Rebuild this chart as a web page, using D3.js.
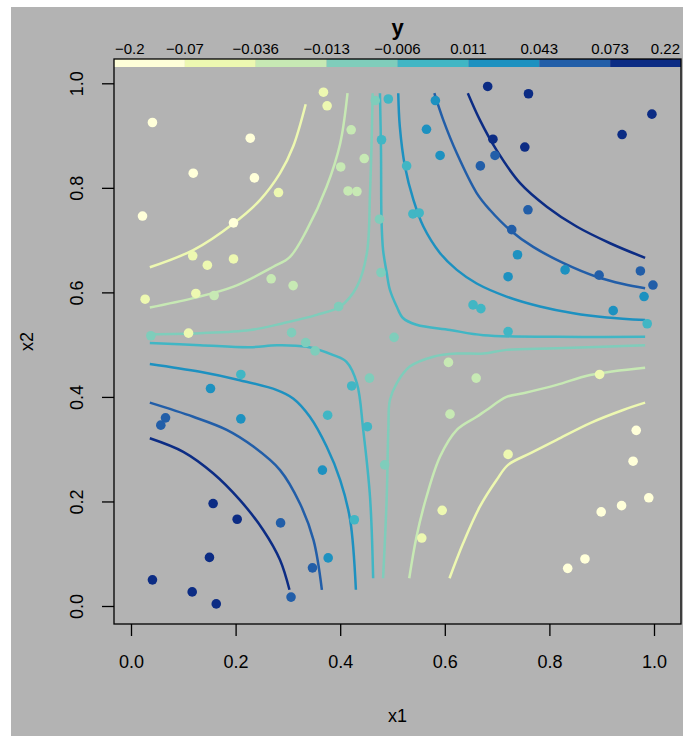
<!DOCTYPE html>
<html>
<head>
<meta charset="utf-8">
<title>contour</title>
<script src="https://d3js.org/d3.v7.min.js"></script>
<style>
  body { margin: 0; background: #fff; }
  text { font-family: "Liberation Sans", Arial, Helvetica, sans-serif; fill: #000; }
</style>
</head>
<body>
<script>
// class breaks of y and the colour of each class (YlGnBu, 8 classes)
const breaks = [-0.2, -0.07, -0.036, -0.013, -0.006, 0.011, 0.043, 0.073, 0.22];
const breakLabels = ['\u22120.2', '\u22120.07', '\u22120.036', '\u22120.013', '\u22120.006', '0.011', '0.043', '0.073', '0.22'];
const palette = ['#ffffd9', '#edf8b1', '#c7e9b4', '#7fcdbb', '#41b6c4', '#1d91c0', '#225ea8', '#0c2c84'];
const xTicks = [0, 0.2, 0.4, 0.6, 0.8, 1.0];
const yTicks = [0, 0.2, 0.4, 0.6, 0.8, 1.0];

// observations: [x1, x2, class of y (0..7)]
const points = [
  [0.368, 0.983, 1], [0.375, 0.957, 1], [0.041, 0.925, 0], [0.228, 0.895, 0],
  [0.119, 0.828, 0], [0.236, 0.819, 0], [0.282, 0.791, 1], [0.022, 0.746, 0],
  [0.196, 0.733, 0], [0.118, 0.670, 1], [0.146, 0.652, 1], [0.196, 0.664, 1],
  [0.027, 0.587, 1], [0.124, 0.598, 1], [0.159, 0.594, 2], [0.268, 0.626, 2],
  [0.310, 0.613, 2], [0.421, 0.911, 2], [0.401, 0.840, 2], [0.446, 0.856, 2],
  [0.415, 0.794, 2], [0.432, 0.793, 2], [0.475, 0.740, 3], [0.478, 0.638, 3],
  [0.397, 0.573, 3], [0.038, 0.517, 3], [0.110, 0.522, 1], [0.307, 0.523, 3],
  [0.334, 0.504, 3], [0.352, 0.488, 3], [0.467, 0.967, 3], [0.492, 0.970, 4],
  [0.479, 0.892, 4], [0.503, 0.514, 3], [0.682, 0.994, 7], [0.760, 0.980, 7],
  [0.996, 0.941, 7], [0.939, 0.902, 7], [0.692, 0.893, 7], [0.753, 0.878, 7],
  [0.696, 0.862, 6], [0.668, 0.842, 6], [0.582, 0.967, 5], [0.565, 0.912, 5],
  [0.591, 0.862, 5], [0.527, 0.842, 4], [0.539, 0.750, 4], [0.551, 0.752, 4],
  [0.759, 0.758, 6], [0.728, 0.720, 6], [0.739, 0.672, 5], [0.721, 0.630, 5],
  [0.830, 0.643, 5], [0.895, 0.633, 6], [0.974, 0.641, 6], [0.998, 0.614, 6],
  [0.981, 0.592, 5], [0.922, 0.565, 5], [0.987, 0.540, 4], [0.654, 0.576, 4],
  [0.669, 0.569, 4], [0.721, 0.525, 4], [0.607, 0.466, 2], [0.660, 0.436, 2],
  [0.610, 0.367, 2], [0.896, 0.443, 1], [0.721, 0.290, 1], [0.966, 0.336, 0],
  [0.960, 0.277, 0], [0.990, 0.207, 0], [0.938, 0.192, 0], [0.899, 0.180, 0],
  [0.868, 0.090, 0], [0.835, 0.072, 0], [0.595, 0.183, 1], [0.556, 0.130, 1],
  [0.210, 0.443, 4], [0.152, 0.416, 5], [0.422, 0.421, 4], [0.456, 0.436, 3],
  [0.376, 0.365, 4], [0.452, 0.343, 4], [0.485, 0.270, 3], [0.066, 0.360, 6],
  [0.057, 0.346, 6], [0.210, 0.358, 5], [0.366, 0.260, 5], [0.427, 0.165, 4],
  [0.377, 0.092, 5], [0.347, 0.073, 6], [0.306, 0.017, 6], [0.157, 0.196, 7],
  [0.203, 0.166, 7], [0.286, 0.159, 6], [0.150, 0.093, 7], [0.041, 0.050, 7],
  [0.117, 0.027, 7], [0.163, 0.004, 7]
];

// contour lines of the fitted surface, one entry per piece
const contourLines = [
  { level: -0.07, pts: [[0.036, 0.648], [0.119, 0.681], [0.196, 0.732], [0.247, 0.777], [0.285, 0.828], [0.310, 0.879], [0.334, 0.960]] },
  { level: -0.07, pts: [[0.609, 0.053], [0.635, 0.120], [0.667, 0.190], [0.699, 0.241], [0.721, 0.270], [0.763, 0.292], [0.814, 0.318], [0.878, 0.350], [0.941, 0.375], [0.983, 0.389]] },
  { level: -0.036, pts: [[0.036, 0.571], [0.119, 0.589], [0.196, 0.611], [0.272, 0.649], [0.304, 0.668], [0.336, 0.719], [0.374, 0.802], [0.400, 0.885], [0.414, 0.981]] },
  { level: -0.036, pts: [[0.532, 0.053], [0.546, 0.133], [0.565, 0.209], [0.591, 0.286], [0.623, 0.337], [0.661, 0.362], [0.680, 0.375], [0.718, 0.400], [0.750, 0.407], [0.814, 0.423], [0.878, 0.442], [0.983, 0.456]] },
  { level: -0.013, pts: [[0.036, 0.520], [0.132, 0.522], [0.228, 0.528], [0.291, 0.541], [0.355, 0.557], [0.400, 0.573], [0.432, 0.611], [0.451, 0.675], [0.457, 0.790], [0.460, 0.885], [0.462, 0.981]] },
  { level: -0.013, pts: [[0.482, 0.053], [0.489, 0.209], [0.492, 0.337], [0.495, 0.394], [0.508, 0.426], [0.533, 0.458], [0.578, 0.477], [0.623, 0.483], [0.674, 0.483], [0.718, 0.490], [0.814, 0.493], [0.983, 0.499]] },
  { level: -0.006, pts: [[0.036, 0.503], [0.132, 0.499], [0.228, 0.495], [0.279, 0.499], [0.336, 0.496], [0.387, 0.480], [0.412, 0.467], [0.432, 0.426], [0.444, 0.337], [0.457, 0.209], [0.463, 0.053]] },
  { level: -0.006, pts: [[0.476, 0.981], [0.478, 0.872], [0.479, 0.738], [0.482, 0.681], [0.489, 0.637], [0.495, 0.605], [0.508, 0.573], [0.520, 0.551], [0.546, 0.538], [0.610, 0.528], [0.674, 0.518], [0.814, 0.515], [0.983, 0.515]] },
  { level: 0.011, pts: [[0.511, 0.981], [0.514, 0.917], [0.524, 0.840], [0.540, 0.777], [0.559, 0.726], [0.591, 0.675], [0.623, 0.643], [0.661, 0.617], [0.718, 0.592], [0.782, 0.573], [0.846, 0.560], [0.910, 0.552], [0.983, 0.547]] },
  { level: 0.011, pts: [[0.036, 0.463], [0.132, 0.448], [0.208, 0.432], [0.279, 0.413], [0.310, 0.397], [0.342, 0.362], [0.374, 0.305], [0.400, 0.241], [0.419, 0.165], [0.430, 0.031]] },
  { level: 0.043, pts: [[0.580, 0.981], [0.597, 0.930], [0.623, 0.866], [0.661, 0.790], [0.686, 0.758], [0.725, 0.719], [0.769, 0.687], [0.827, 0.656], [0.890, 0.630], [0.941, 0.616], [0.983, 0.608]] },
  { level: 0.043, pts: [[0.036, 0.389], [0.119, 0.362], [0.183, 0.337], [0.234, 0.305], [0.285, 0.260], [0.323, 0.196], [0.349, 0.126], [0.365, 0.031]] },
  { level: 0.073, pts: [[0.644, 0.981], [0.667, 0.930], [0.699, 0.872], [0.744, 0.809], [0.795, 0.764], [0.852, 0.726], [0.916, 0.694], [0.983, 0.666]] },
  { level: 0.073, pts: [[0.036, 0.321], [0.100, 0.295], [0.157, 0.254], [0.208, 0.203], [0.253, 0.145], [0.285, 0.088], [0.303, 0.031]] }
];

const W = 686, H = 738;
const box = { left: 114, right: 681, top: 59, bottom: 624 };

const svg = d3.select('body').append('svg')
  .attr('width', W)
  .attr('height', H);

svg.append('rect')
  .attr('x', 11).attr('y', 7)
  .attr('width', 672).attr('height', 729)
  .attr('fill', '#b3b3b3');

const x = d3.scaleLinear().domain([0, 1]).range([131, 654]);
const y = d3.scaleLinear().domain([0, 1]).range([606, 83.3]);

// contour lines
const line = d3.line()
  .x(d => x(d[0]))
  .y(d => y(d[1]))
  .curve(d3.curveCatmullRom.alpha(0.5));

svg.append('g')
  .selectAll('path')
  .data(contourLines)
  .enter()
  .append('path')
  .attr('d', d => line(d.pts))
  .attr('fill', 'none')
  .attr('stroke', d => palette[breaks.indexOf(d.level)])
  .attr('stroke-width', 2.5);

// points
svg.append('g')
  .selectAll('circle')
  .data(points)
  .enter()
  .append('circle')
  .attr('cx', d => x(d[0]))
  .attr('cy', d => y(d[1]))
  .attr('r', 4.8)
  .attr('fill', d => palette[d[2]]);

// colour bar along the top of the plot
const cb = d3.scaleLinear().domain([0, palette.length]).range([box.left, box.right]);

svg.append('g')
  .selectAll('rect')
  .data(palette)
  .enter()
  .append('rect')
  .attr('x', (d, i) => cb(i))
  .attr('y', box.top)
  .attr('width', (d, i) => cb(i + 1) - cb(i))
  .attr('height', 8)
  .attr('fill', d => d);

svg.append('g')
  .selectAll('text')
  .data(breakLabels)
  .enter()
  .append('text')
  .attr('x', (d, i) => i === 0 ? cb(i) + 1 : i === breakLabels.length - 1 ? cb(i) - 1 : cb(i))
  .attr('y', 54)
  .attr('text-anchor', (d, i) => i === 0 ? 'start' : i === breakLabels.length - 1 ? 'end' : 'middle')
  .style('font-size', '15px')
  .text(d => d);

svg.append('text')
  .attr('x', (box.left + box.right) / 2)
  .attr('y', 35)
  .attr('text-anchor', 'middle')
  .style('font-size', '22px')
  .style('font-weight', 'bold')
  .text('y');

// box
svg.append('rect')
  .attr('x', box.left).attr('y', box.top)
  .attr('width', box.right - box.left)
  .attr('height', box.bottom - box.top)
  .attr('fill', 'none')
  .attr('stroke', '#000')
  .attr('stroke-width', 1.3);

// axes
const xAxis = svg.append('g')
  .attr('transform', `translate(0,${box.bottom})`)
  .call(d3.axisBottom(x).tickValues(xTicks).tickFormat(d3.format('.1f')).tickSize(12).tickPadding(19));
xAxis.select('.domain').remove();
xAxis.selectAll('line').attr('stroke-width', 1.3);
xAxis.selectAll('text').style('font-size', '18px').attr('font-family', null);

const yAxis = svg.append('g')
  .attr('transform', `translate(${box.left},0)`)
  .call(d3.axisLeft(y).tickValues(yTicks).tickFormat(d3.format('.1f')).tickSize(12));
yAxis.select('.domain').remove();
yAxis.selectAll('line').attr('stroke-width', 1.3);
yAxis.selectAll('text')
  .attr('x', null).attr('dy', null)
  .attr('text-anchor', 'middle')
  .attr('transform', 'translate(-31,0) rotate(-90)')
  .style('font-size', '18px');

svg.append('text')
  .attr('x', (box.left + box.right) / 2)
  .attr('y', 722)
  .attr('text-anchor', 'middle')
  .style('font-size', '18px')
  .text('x1');

svg.append('text')
  .attr('transform', `translate(33,${(box.top + box.bottom) / 2}) rotate(-90)`)
  .attr('text-anchor', 'middle')
  .style('font-size', '18px')
  .text('x2');
</script>
</body>
</html>
